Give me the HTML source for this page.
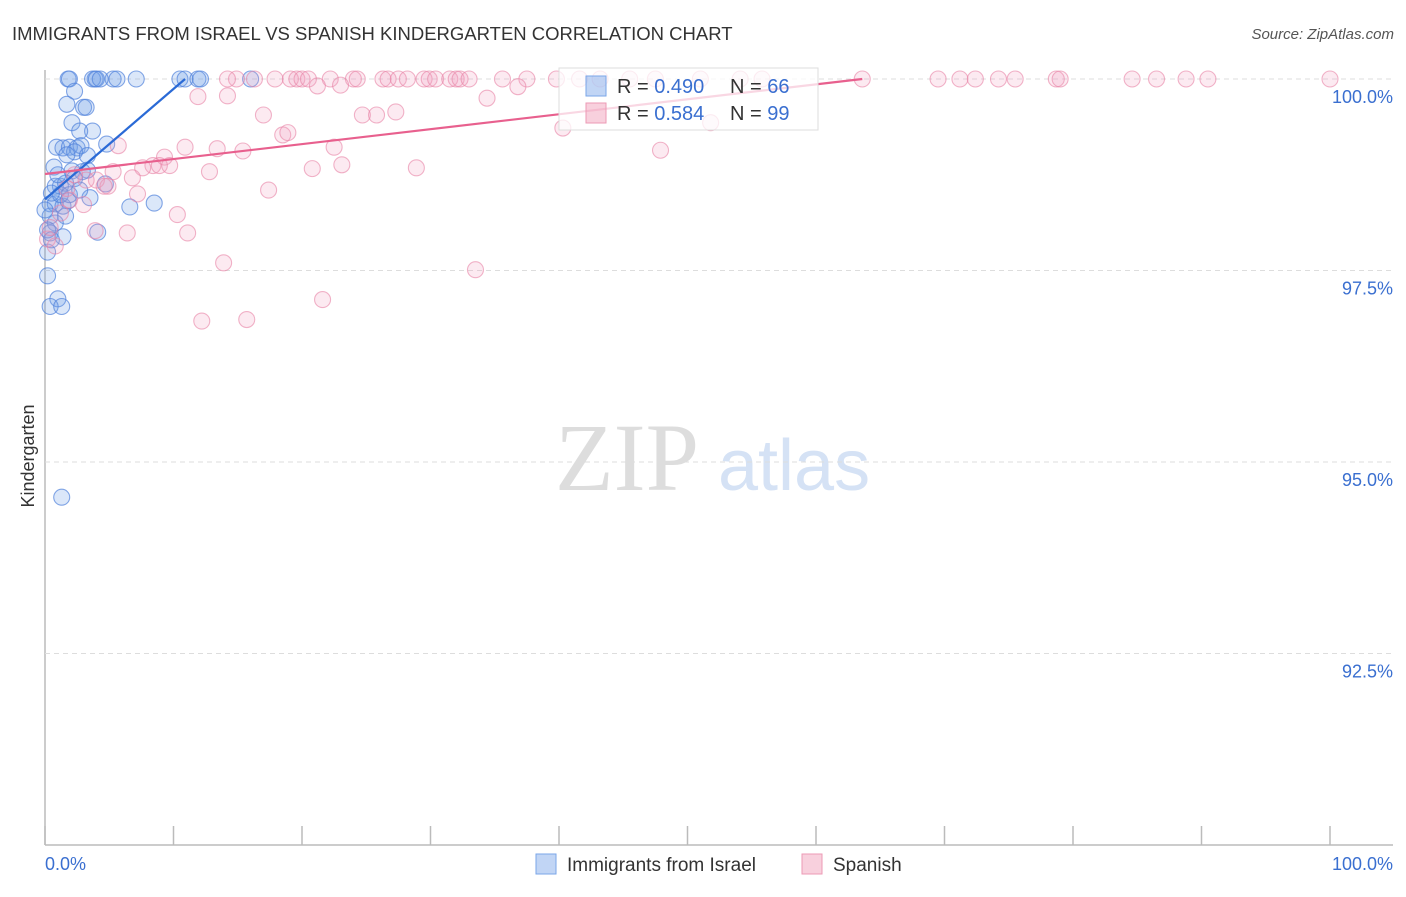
<!DOCTYPE html>
<html><head><meta charset="utf-8"><style>
body{margin:0;background:#fff;font-family:"Liberation Sans",sans-serif}
svg text{font-family:"Liberation Sans",sans-serif}
</style></head><body>
<svg id="c" width="1406" height="892">
<text x="12" y="40" font-size="18.5" fill="#333">IMMIGRANTS FROM ISRAEL VS SPANISH KINDERGARTEN CORRELATION CHART</text>
<text x="1394" y="39" font-size="15" fill="#555" font-style="italic" text-anchor="end">Source: ZipAtlas.com</text>
<text x="34" y="456" font-size="18" fill="#333" transform="rotate(-90 34 456)" text-anchor="middle">Kindergarten</text>
<text x="555" y="490" font-size="96" fill="#ddd" style="font-family:'Liberation Serif',serif">ZIP</text>
<text x="718" y="490" font-size="72" fill="#d5e2f5">atlas</text>
<g id="grid"></g><g id="pts"></g><g id="trend"></g>
<g>
<rect x="559" y="68" width="259" height="62" fill="rgba(255,255,255,0.75)" stroke="#ddd"/>
<rect x="586" y="76" width="20" height="20" fill="rgba(100,150,230,0.4)" stroke="#7aa6e8"/>
<text x="617" y="93" font-size="20" fill="#333">R = <tspan fill="#3a6fd0">0.490</tspan></text>
<text x="730" y="93" font-size="20" fill="#333">N = <tspan fill="#3a6fd0">66</tspan></text>
<rect x="586" y="103" width="20" height="20" fill="rgba(240,150,180,0.45)" stroke="#ec9ab5"/>
<text x="617" y="120" font-size="20" fill="#333">R =  <tspan fill="#3a6fd0">0.584</tspan></text>
<text x="730" y="120" font-size="20" fill="#333">N = <tspan fill="#3a6fd0">99</tspan></text>
</g>
<g>
<rect x="536" y="854" width="20" height="20" fill="rgba(100,150,230,0.4)" stroke="#7aa6e8"/>
<text x="567" y="871" font-size="19" fill="#333">Immigrants from Israel</text>
<rect x="802" y="854" width="20" height="20" fill="rgba(240,150,180,0.45)" stroke="#ec9ab5"/>
<text x="833" y="871" font-size="19" fill="#333">Spanish</text>
</g>
<text x="45" y="870" font-size="18" fill="#3a6fd0">0.0%</text>
<text x="1393" y="870" font-size="18" fill="#3a6fd0" text-anchor="end">100.0%</text>
</svg>
<script>
const yTicks=[100,97.5,95,92.5];
const yTickLabels=["100.0%","97.5%","95.0%","92.5%"];
const xTicks=[0,10,20,30,40,50,60,70,80,90,100];
const israelX=[1.8,1.9,3.9,3.7,4.0,5.3,5.6,7.1,10.5,10.9,11.9,12.1,16.0,4.3,2.3,1.7,3.0,3.2,2.1,3.7,2.7,0.9,1.4,1.9,2.5,2.8,4.8,2.3,3.3,1.7,0.7,2.1,3.3,2.9,1.2,0.8,2.3,1.6,3.5,0.4,0.8,1.4,1.8,6.6,8.5,0.4,1.6,0.8,4.1,0.4,1.4,0.2,0.2,1.0,0.4,1.3,1.3,4.7,1.2,0.5,1.9,0.0,2.7,1.0,0.2,0.5];
const israelY=[100,100,100,100,100,100,100,100,100,100,100,100,100,100,99.84,99.67,99.63,99.63,99.43,99.32,99.32,99.11,99.10,99.11,99.10,99.13,99.15,99.05,99.00,99.01,98.85,98.80,98.81,98.79,98.60,98.60,98.70,98.64,98.45,98.37,98.37,98.34,98.41,98.33,98.38,98.21,98.21,98.12,98.00,97.99,97.94,97.74,97.43,97.13,97.03,97.03,94.54,98.63,98.49,98.51,98.49,98.29,98.55,98.75,98.03,97.90];
const spanX=[14.9,16.3,17.9,19.1,19.6,20.0,20.5,22.2,24.0,24.3,26.3,26.7,27.5,28.2,29.5,29.9,30.4,31.5,32.0,32.3,33.0,35.6,37.5,39.8,41.6,43.2,45.5,47.5,51.0,54.1,55.8,63.6,69.5,71.2,72.4,74.2,75.5,78.7,79.0,84.6,86.5,88.8,90.5,100,14.2,21.2,23.0,36.8,11.9,14.2,34.4,17.0,24.7,25.8,27.3,40.3,51.8,18.5,18.9,10.9,15.4,13.4,22.5,47.9,5.7,9.3,8.4,8.9,9.7,7.6,12.8,20.8,23.1,28.9,5.3,4.0,6.8,4.9,17.4,7.2,1.7,3.0,10.3,3.9,6.4,11.1,0.2,0.8,13.9,33.5,21.6,12.2,15.7,0.4,1.2,1.9,3.2,4.6,2.3];
const spanY=[100,100,100,100,100,100,100,100,100,100,100,100,100,100,100,100,100,100,100,100,100,100,100,100,100,100,100,100,100,100,100,100,100,100,100,100,100,100,100,100,100,100,100,100,100,99.91,99.92,99.90,99.77,99.78,99.75,99.53,99.53,99.53,99.57,99.36,99.43,99.27,99.30,99.11,99.06,99.09,99.11,99.07,99.13,98.98,98.87,98.87,98.87,98.84,98.79,98.83,98.88,98.84,98.79,98.68,98.71,98.60,98.55,98.50,98.57,98.36,98.23,98.02,97.99,97.99,97.91,97.82,97.60,97.51,97.12,96.84,96.86,98.06,98.25,98.42,98.68,98.60,98.75];
const israelTrend=[[0,98.43],[10.9,100]];
const spanTrend=[[0,98.76],[63.6,100]];
const NS="http://www.w3.org/2000/svg";
const X=v=>45+v*12.85, Y=v=>79+(100-v)*76.6;
function mk(t,a,p){const e=document.createElementNS(NS,t);for(const k in a)e.setAttribute(k,a[k]);p.appendChild(e);return e;}
const grid=document.getElementById('grid');
mk('line',{x1:45,y1:70,x2:45,y2:845,stroke:'#bbb','stroke-width':1.5},grid);
mk('line',{x1:45,y1:845,x2:1393,y2:845,stroke:'#bbb','stroke-width':1.5},grid);
yTicks.forEach((t,i)=>{
 const g=mk('line',{x1:45,x2:1393,y1:Y(t),y2:Y(t),stroke:'#ddd','stroke-dasharray':'5,4'},grid);
 
 
 const l=mk('text',{x:1393,y:Y(t)+24,'font-size':18,fill:'#3a6fd0','text-anchor':'end'},grid);
 l.textContent=yTickLabels[i];
 
 
});
xTicks.forEach(t=>{
 const k=mk('line',{x1:X(t),x2:X(t),y1:826,y2:845,stroke:'#bbb','stroke-width':1.5},grid);
 
 
});
const pts=document.getElementById('pts');
israelX.forEach((x,i)=>{
 const c=mk('circle',{cx:X(x),cy:Y(israelY[i]),r:8,fill:'rgba(110,160,230,0.25)',stroke:'rgba(80,130,220,0.7)','stroke-width':1.1},pts);
 
 
});
spanX.forEach((x,i)=>{
 const c=mk('circle',{cx:X(x),cy:Y(spanY[i]),r:8,fill:'rgba(240,160,190,0.22)',stroke:'rgba(232,130,165,0.6)','stroke-width':1.1},pts);
 
 
});
const tr=document.getElementById('trend');
const l1=mk('line',{x1:X(israelTrend[0][0]),y1:Y(israelTrend[0][1]),x2:X(israelTrend[1][0]),y2:Y(israelTrend[1][1]),stroke:'#2a6ad6','stroke-width':2.2},tr);


const l2=mk('line',{x1:X(spanTrend[0][0]),y1:Y(spanTrend[0][1]),x2:X(spanTrend[1][0]),y2:Y(spanTrend[1][1]),stroke:'#e8608e','stroke-width':2.2},tr);


</script>
</body></html>
